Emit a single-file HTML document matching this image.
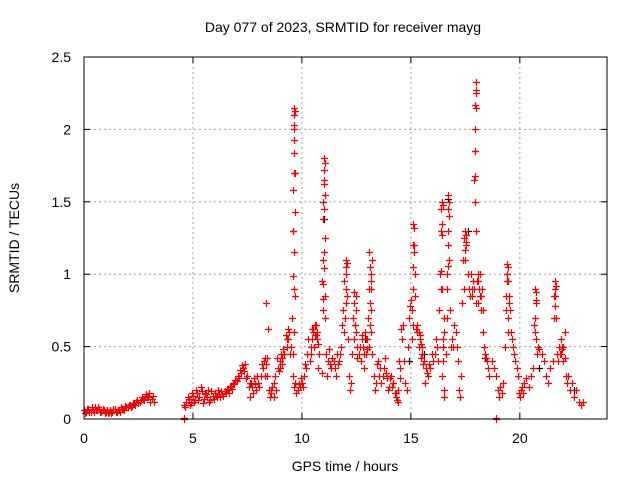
<!DOCTYPE html>
<html><head><meta charset="utf-8"><style>
html,body{margin:0;padding:0;background:#fff;}
svg{display:block;font-family:"Liberation Sans",Arial,sans-serif;}
</style></head><body>
<svg id="chart" width="640" height="480" viewBox="0 0 640 480" xmlns="http://www.w3.org/2000/svg">
<rect x="0" y="0" width="640" height="480" fill="#fff"/>
<text x="343" y="32" font-size="14" text-anchor="middle" fill="#000">Day 077 of 2023, SRMTID for receiver mayg</text>
<text x="345" y="471" font-size="14" text-anchor="middle" fill="#000">GPS time / hours</text>
<text x="19" y="238" font-size="14" text-anchor="middle" fill="#000" transform="rotate(-90 19 238)">SRMTID / TECUs</text>
<g id="grid"></g>
<g id="ticks"></g>
<g id="black"></g>
<g id="red"></g>
<rect x="84" y="57" width="523" height="362" fill="none" stroke="#000" stroke-width="1"/>
</svg>
<script>
const xTicks=[0,5,10,15,20];
const xTickLabels=["0","5","10","15","20"];
const yTicks=[0,0.5,1,1.5,2,2.5];
const yTickLabels=["0","0.5","1","1.5","2","2.5"];
const redHours=[
0,0.1,0.2,0.3,0.4,0.5,0.6,0.7,0.8,0.9,1,1.1,1.2,1.3,1.4,1.5,1.6,1.7,1.8,1.9,2,2.1,2.2,2.3,2.4,2.5,2.6,2.7,2.8,2.9,3,3.1,3.2,
0.05,0.15,0.25,0.35,0.45,0.55,0.65,0.75,0.85,0.95,1.05,1.15,1.25,1.35,1.45,1.55,1.65,1.75,1.85,1.95,2.05,2.15,2.25,2.35,2.45,2.55,2.65,2.75,2.85,2.95,3.05,3.15,
4.6,4.7,4.8,4.9,5,5.1,5.2,5.3,5.4,5.5,5.6,5.7,5.8,5.9,6,6.1,6.2,6.3,6.4,6.5,6.6,6.7,6.8,6.9,7,7.1,7.2,7.3,7.4,7.5,7.6,
4.65,4.75,4.85,4.95,5.05,5.15,5.25,5.35,5.45,5.55,5.65,5.75,5.85,5.95,6.05,6.15,6.25,6.35,6.45,6.55,6.65,6.75,6.85,6.95,7.05,7.15,7.25,7.35,7.45,7.55,
7.6,7.7,7.8,7.9,8,8.1,8.2,8.3,8.4,8.5,8.6,8.7,8.8,8.9,9,9.1,9.2,9.3,9.4,9.5,
7.65,7.75,7.85,7.95,8.05,8.15,8.25,8.35,8.45,8.55,8.65,8.75,8.85,8.95,9.05,9.15,9.25,9.35,9.45,
9.55,9.58,9.6,9.6,9.62,9.62,9.64,9.64,9.66,9.66,9.68,
9.7,9.8,9.9,10,10.1,10.2,10.3,10.4,10.5,10.6,10.7,10.8,
9.75,9.85,9.95,10.05,10.15,10.25,10.35,10.45,10.55,10.65,10.75,
10.9,10.92,10.95,10.95,10.98,11,11,11.02,11.05,11.05,11.08,
11.1,11.2,11.3,11.4,11.5,11.6,11.7,11.8,
11.15,11.25,11.35,11.45,11.55,11.65,11.75,
11.85,11.9,11.95,12,12,12.05,12.1,12.15,12.2,12.25,
12.3,12.35,12.4,12.4,12.45,12.5,12.55,12.6,
12.7,12.75,12.8,12.85,12.9,12.95,13,
13.05,13.1,13.1,13.12,13.15,13.15,13.18,13.2,
13.3,13.4,13.5,13.6,13.7,13.8,13.9,14,14.1,14.2,14.3,14.4,14.5,14.6,
13.35,13.45,13.55,13.65,13.75,13.85,13.95,14.05,14.15,14.25,14.35,14.45,14.55,
14.65,14.7,14.75,14.8,14.85,14.9,14.95,15,
15.05,15.1,15.12,15.15,15.18,15.2,
15.3,15.4,15.5,15.6,15.7,15.8,15.9,16,
15.25,15.35,15.45,15.55,15.65,15.75,15.85,15.95,
16.1,16.15,16.2,16.25,16.3,
16.35,16.4,16.4,16.42,16.45,16.48,16.5,16.52,
16.6,16.65,16.7,16.7,16.72,16.75,16.8,16.85,
16.9,16.95,17,17.05,17.1,17.15,17.2,17.25,17.3,
17.35,17.4,17.45,17.5,17.55,17.6,17.65,17.7,17.75,17.8,
17.9,17.92,17.95,17.95,17.97,17.98,18,
18.05,18.1,18.15,18.2,18.25,18.3,18.35,18.4,18.45,18.5,18.55,18.6,
18.7,18.8,18.9,19,19.05,19.1,19.2,19.25,
19.3,19.35,19.4,19.42,19.45,19.5,19.55,19.6,19.65,19.7,19.75,19.8,19.85,19.9,
19.95,20,20.05,20.1,20.15,20.2,20.3,20.4,20.5,20.6,
20.65,20.7,20.72,20.75,20.8,
20.85,20.9,21,21.1,21.2,21.3,21.4,21.5,
21.55,21.6,21.62,21.65,21.7,
21.75,21.8,21.85,21.9,21.95,22,22.05,22.1,
22.15,22.2,22.3,22.4,22.5,22.6,22.7,22.8,22.9,
4.6,4.6,18.9,18.9
];
const redValues=[
.06,.05,.07,.05,.06,.08,.06,.07,.05,.06,.05,.04,.06,.05,.07,.05,.06,.08,.07,.09,.08,.10,.09,.11,.12,.11,.13,.14,.15,.16,.18,.14,.12,
.04,.07,.05,.08,.05,.06,.08,.05,.07,.04,.06,.05,.04,.07,.05,.06,.05,.07,.06,.08,.10,.08,.11,.10,.13,.12,.15,.13,.17,.15,.12,.16,
.10,.12,.14,.11,.16,.13,.18,.15,.19,.14,.17,.20,.13,.16,.18,.15,.17,.19,.16,.18,.20,.22,.21,.24,.26,.28,.32,.35,.38,.30,.25,
.08,.15,.10,.18,.12,.20,.13,.22,.11,.18,.15,.12,.19,.14,.16,.20,.15,.17,.19,.21,.18,.23,.25,.27,.30,.34,.37,.33,.28,.22,
.15,.22,.28,.20,.25,.30,.35,.42,.30,.20,.18,.25,.20,.35,.40,.38,.45,.55,.60,.50,
.25,.18,.24,.30,.22,.38,.40,.80,.62,.15,.22,.30,.42,.33,.45,.48,.58,.62,.45,
.70,.99,1.3,1.58,1.84,2.0,2.1,2.15,1.7,1.43,.85,
.25,.20,.22,.25,.30,.35,.55,.50,.60,.65,.55,.45,
.18,.24,.28,.22,.38,.45,.40,.62,.50,.58,.35,
.32,.95,1.1,1.38,1.5,1.65,1.8,1.72,1.25,.85,.70,
.45,.40,.38,.42,.35,.45,.40,.50,
.30,.48,.35,.40,.30,.38,.45,
.65,.75,.95,1.1,1.05,.85,.55,.30,.20,.25,
.45,.70,.88,.80,.65,.60,.50,.45,
.40,.55,.50,.35,.60,.45,.55,
.70,.90,1.15,1.05,.95,.75,.60,.45,
.30,.25,.40,.35,.30,.42,.28,.22,.30,.25,.15,.20,.35,.55,
.20,.38,.30,.25,.35,.32,.20,.28,.22,.18,.13,.40,.62,
.65,.40,.25,.20,.50,.70,.78,.82,
.75,1.2,1.35,1.15,1.0,.85,
.60,.55,.45,.40,.35,.30,.35,.40,
.62,.50,.42,.38,.25,.32,.38,.45,
.45,.55,.50,.40,.75,
1.0,1.3,1.45,1.5,.9,.55,.20,.15,
.45,.70,1.3,1.55,1.45,1.1,.75,.50,
.55,.50,.65,.60,.50,.40,.20,.15,.30,
.80,1.1,1.25,1.3,1.2,1.0,.9,.85,1.0,.9,
1.65,1.85,2.0,2.17,2.25,2.33,1.3,
.95,1.0,.85,.75,.90,.60,.50,.45,.42,.40,.35,.30,
.40,.35,.30,.20,.15,.22,.18,.25,
.50,.75,1.0,1.07,.95,.85,.75,.60,.55,.50,.45,.40,.35,.30,
.18,.15,.20,.22,.18,.25,.28,.22,.30,.35,
.65,.90,.82,.55,.45,
.50,.48,.45,.40,.30,.25,.35,.40,
.85,.95,.90,.70,.45,
.40,.50,.45,.55,.50,.40,.60,.30,
.25,.30,.20,.25,.15,.20,.12,.10,.12,
0,0.01,0,0.01
];
const redExtraHours=[
9.6,9.61,9.62,9.63,9.64,9.65,9.62,9.64,9.66,9.63,
10.95,10.97,10.99,11.0,11.01,11.03,11.05,11.02,11.04,
11.95,11.97,12.0,12.02,12.04,12.05,
12.4,12.43,12.47,12.5,
13.1,13.12,13.14,13.16,13.18,13.2,
15.05,15.08,15.1,15.12,15.14,15.16,
16.38,16.4,16.42,16.44,16.46,16.45,16.47,16.49,16.5,16.52,
16.66,16.68,16.7,16.72,16.74,16.76,
17.45,17.48,17.5,17.52,17.55,
17.92,17.94,17.96,17.98,18.0,
18.08,18.12,18.16,18.2,
19.38,19.4,19.42,19.44,19.45,19.47,19.5,
20.68,20.7,20.72,20.74,
21.58,21.6,21.62,21.64,
10.4,10.45,10.5,10.55,10.6,10.65,10.7,10.75,
12.55,12.65,12.75,12.85,12.95,13.0,
17.8,17.85,17.9,18.0,18.1,18.2,18.3,
9.0,9.1,9.2,9.3,9.35,
15.3,15.35,15.4,15.45,15.5,
21.9,21.95,22.0,22.05,
14.2,14.3,14.4,14.5,
8.3,8.35,8.4,8.6,8.7
];
const redExtraValues=[
.3,.45,.6,.9,1.15,1.7,1.93,2.03,2.13,.22,
.75,.83,.93,1.04,1.15,1.45,1.55,1.62,1.77,
.6,.7,.8,.9,1.0,1.08,
.55,.65,.75,.85,
.5,.65,.8,.9,1.0,1.1,
.55,.65,.9,1.05,1.2,1.32,
.9,1.02,1.27,1.35,1.48,.3,.4,.5,.6,.7,
.9,1.0,1.06,1.2,1.4,1.5,
.9,1.1,1.17,1.22,1.27,
1.5,1.68,1.85,2.15,2.27,
.8,.9,1.0,.85,
.85,.95,1.0,1.05,.6,.7,.8,
.6,.7,.8,.88,
.7,.78,.85,.92,
.45,.55,.62,.5,.58,.65,.6,.52,
.42,.5,.58,.45,.55,.48,
.85,.95,.9,.8,.95,.85,.75,
.35,.42,.45,.5,.55,
.65,.6,.58,.52,.5,
.45,.48,.5,.42,
.25,.18,.12,.28,
.3,.38,.42,.2,.15
];
const blackHours=[9.6,11.0,15.6,16.7,17.6,18.4,14.9,12.9,20.9,22.5];
const blackValues=[1.3,1.38,0.45,1.52,1.3,0.42,0.4,0.55,0.35,0.2];

const L=84,R=607,T=57,B=419,XMAX=24,YMAX=2.5;
const xs=h=>L+h*(R-L)/XMAX;
const ys=v=>B-v*(B-T)/YMAX;
const NS="http://www.w3.org/2000/svg";
const grid=document.getElementById('grid'),ticks=document.getElementById('ticks');
function mk(tag,attrs,parent){const e=document.createElementNS(NS,tag);for(const k in attrs)e.setAttribute(k,attrs[k]);parent.appendChild(e);return e;}
xTicks.forEach((t,i)=>{
  const x=xs(t);
  if(t>0){const g=mk('line',{x1:x,y1:T,x2:x,y2:B,stroke:'#a0a0a0','stroke-dasharray':'2,3'},grid);
  
  }
  const a=mk('line',{x1:x,y1:B,x2:x,y2:B-6,stroke:'#000'},ticks);
  
  
  const b=mk('line',{x1:x,y1:T,x2:x,y2:T+6,stroke:'#000'},ticks);
  
  
  const lb=mk('text',{x:x,y:B+24,'font-size':14,'text-anchor':'middle',fill:'#000'},ticks);
  lb.textContent=xTickLabels[i];
  
  
});
yTicks.forEach((t,i)=>{
  const y=ys(t);
  if(t>0&&t<YMAX){const g=mk('line',{x1:L,y1:y,x2:R,y2:y,stroke:'#a0a0a0','stroke-dasharray':'2,3'},grid);
  
  }
  const a=mk('line',{x1:L,y1:y,x2:L+6,y2:y,stroke:'#000'},ticks);
  
  
  const b=mk('line',{x1:R,y1:y,x2:R-6,y2:y,stroke:'#000'},ticks);
  
  
  const lb=mk('text',{x:L-13,y:y+5,'font-size':14,'text-anchor':'end',fill:'#000'},ticks);
  lb.textContent=yTickLabels[i];
  
  
});
function drawSeries(hours,vals,color,gid,name){
  const g=document.getElementById(gid);
  let d='';
  const n=Math.min(hours.length,vals.length);
  for(let i=0;i<n;i++){
    const x=Math.round(xs(hours[i]))+0.5,y=Math.round(ys(vals[i]))+0.5;
    d+='M'+(x-3.5)+' '+y+'h7M'+x+' '+(y-3.5)+'v7';
  }
  const p=mk('path',{d:d,stroke:color,'stroke-width':1.2,fill:'none'},g);
  
  
}
drawSeries(blackHours,blackValues,'#000','black','black-points');
drawSeries(redHours,redValues,'#ff0000','red','red-points');
drawSeries(redExtraHours,redExtraValues,'#ff0000','red','red-points-extra');
</script>
</body></html>
